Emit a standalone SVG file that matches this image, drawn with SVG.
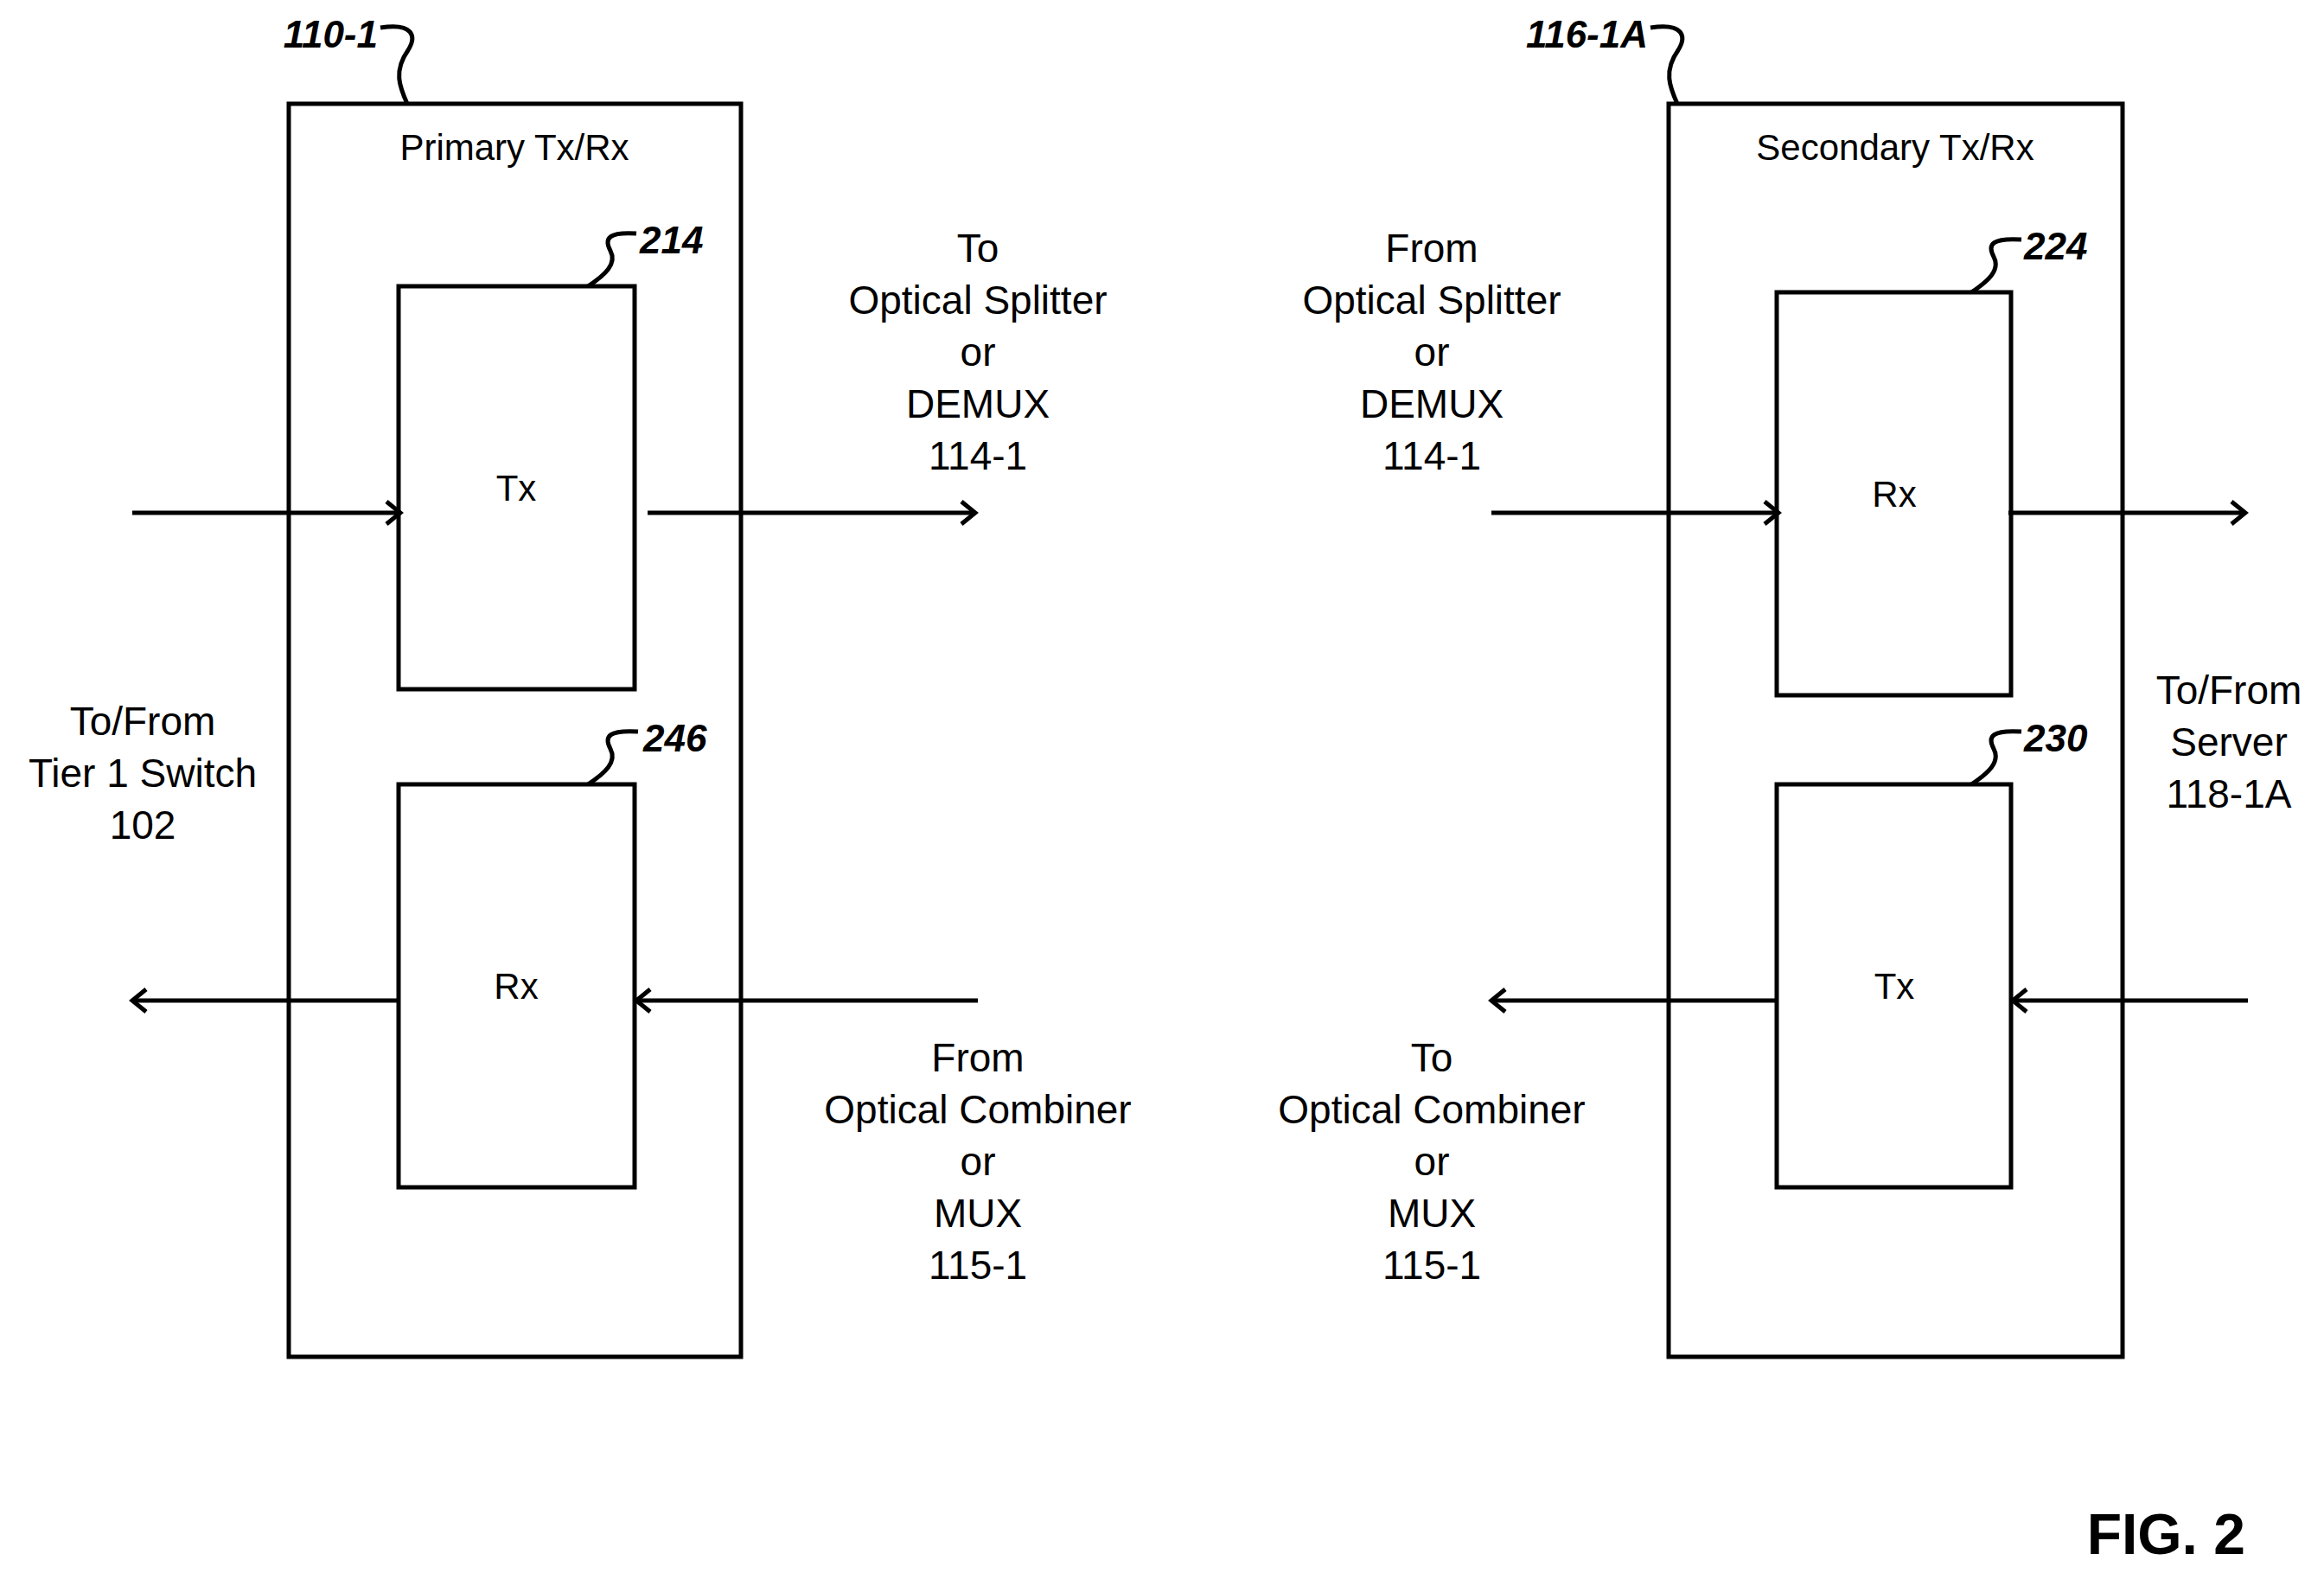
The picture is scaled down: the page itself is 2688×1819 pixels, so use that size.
<svg xmlns="http://www.w3.org/2000/svg" width="2688" height="1819" viewBox="0 0 2688 1819">
<style>
.b{fill:none;stroke:#000;stroke-width:5}
.t{font-family:"Liberation Sans",Arial,sans-serif;font-size:46px;text-anchor:middle;fill:#000}
.s{font-family:"Liberation Sans",Arial,sans-serif;font-size:42px;text-anchor:middle;fill:#000}
.r{font-family:"Liberation Sans",Arial,sans-serif;font-size:44px;font-weight:bold;font-style:italic;fill:#000}
</style>
<defs>
<marker id="a" viewBox="0 0 30 30" refX="26" refY="15" markerWidth="30" markerHeight="30" markerUnits="userSpaceOnUse" orient="auto">
<path d="M10,2 L26,15 L10,28" fill="none" stroke="#000" stroke-width="5"/>
</marker>
</defs>
<rect width="2688" height="1819" fill="#fff"/>
<g id="primary">
<rect class="b" x="334" y="120" width="523" height="1449"/>
<text class="s" x="595" y="185">Primary Tx/Rx</text>
<text class="r" x="437" y="55" text-anchor="end">110-1</text>
<path class="b" d="M440,32 C478,26 482,42 472,58 C455,82 462,100 471,120"/>
</g>
<g id="ptx">
<rect class="b" x="461" y="331" width="273" height="466"/>
<text class="s" x="597" y="579">Tx</text>
<text class="r" x="740" y="293">214</text>
<path class="b" d="M680,331 C700,318 714,305 706,290 C698,275 705,268 736,270"/>
</g>
<g id="prx">
<rect class="b" x="461" y="907" width="273" height="466"/>
<text class="s" x="597" y="1155">Rx</text>
<text class="r" x="744" y="869">246</text>
<path class="b" d="M680,907 C700,894 714,881 706,866 C698,851 705,844 738,846"/>
</g>
<g id="secondary">
<rect class="b" x="1930" y="120" width="525" height="1449"/>
<text class="s" x="2192" y="185">Secondary Tx/Rx</text>
<text class="r" x="1906" y="55" text-anchor="end">116-1A</text>
<path class="b" d="M1909,32 C1947,26 1951,42 1941,58 C1924,82 1931,100 1940,120"/>
</g>
<g id="srx">
<rect class="b" x="2055" y="338" width="271" height="466"/>
<text class="s" x="2191" y="586">Rx</text>
<text class="r" x="2341" y="300">224</text>
<path class="b" d="M2280,338 C2300,325 2314,312 2306,297 C2298,282 2305,275 2338,277"/>
</g>
<g id="stx">
<rect class="b" x="2055" y="907" width="271" height="466"/>
<text class="s" x="2191" y="1155">Tx</text>
<text class="r" x="2341" y="869">230</text>
<path class="b" d="M2280,907 C2300,894 2314,881 2306,866 C2298,851 2305,844 2338,846"/>
</g>
<g id="connectors">
<line class="b" x1="153" y1="593" x2="463" y2="593" marker-end="url(#a)"/>
<line class="b" x1="749" y1="593" x2="1128" y2="593" marker-end="url(#a)"/>
<line class="b" x1="1131" y1="1157" x2="736" y2="1157" marker-end="url(#a)"/>
<line class="b" x1="461" y1="1157" x2="153" y2="1157" marker-end="url(#a)"/>
<line class="b" x1="1725" y1="593" x2="2057" y2="593" marker-end="url(#a)"/>
<line class="b" x1="2323" y1="593" x2="2597" y2="593" marker-end="url(#a)"/>
<line class="b" x1="2600" y1="1157" x2="2328" y2="1157" marker-end="url(#a)"/>
<line class="b" x1="2055" y1="1157" x2="1725" y2="1157" marker-end="url(#a)"/>
</g>
<g id="labels">
<text class="t" x="1131" y="303">To</text>
<text class="t" x="1131" y="363">Optical Splitter</text>
<text class="t" x="1131" y="423">or</text>
<text class="t" x="1131" y="483">DEMUX</text>
<text class="t" x="1131" y="543">114-1</text>
<text class="t" x="1656" y="303">From</text>
<text class="t" x="1656" y="363">Optical Splitter</text>
<text class="t" x="1656" y="423">or</text>
<text class="t" x="1656" y="483">DEMUX</text>
<text class="t" x="1656" y="543">114-1</text>
<text class="t" x="1131" y="1239">From</text>
<text class="t" x="1131" y="1299">Optical Combiner</text>
<text class="t" x="1131" y="1359">or</text>
<text class="t" x="1131" y="1419">MUX</text>
<text class="t" x="1131" y="1479">115-1</text>
<text class="t" x="1656" y="1239">To</text>
<text class="t" x="1656" y="1299">Optical Combiner</text>
<text class="t" x="1656" y="1359">or</text>
<text class="t" x="1656" y="1419">MUX</text>
<text class="t" x="1656" y="1479">115-1</text>
<text class="t" x="165" y="850">To/From</text>
<text class="t" x="165" y="910">Tier 1 Switch</text>
<text class="t" x="165" y="970">102</text>
<text class="t" x="2578" y="814">To/From</text>
<text class="t" x="2578" y="874">Server</text>
<text class="t" x="2578" y="934">118-1A</text>
<text x="2597" y="1797" text-anchor="end" style="font-family:'Liberation Sans',Arial,sans-serif;font-size:66px;font-weight:bold">FIG. 2</text>
</g>
</svg>
